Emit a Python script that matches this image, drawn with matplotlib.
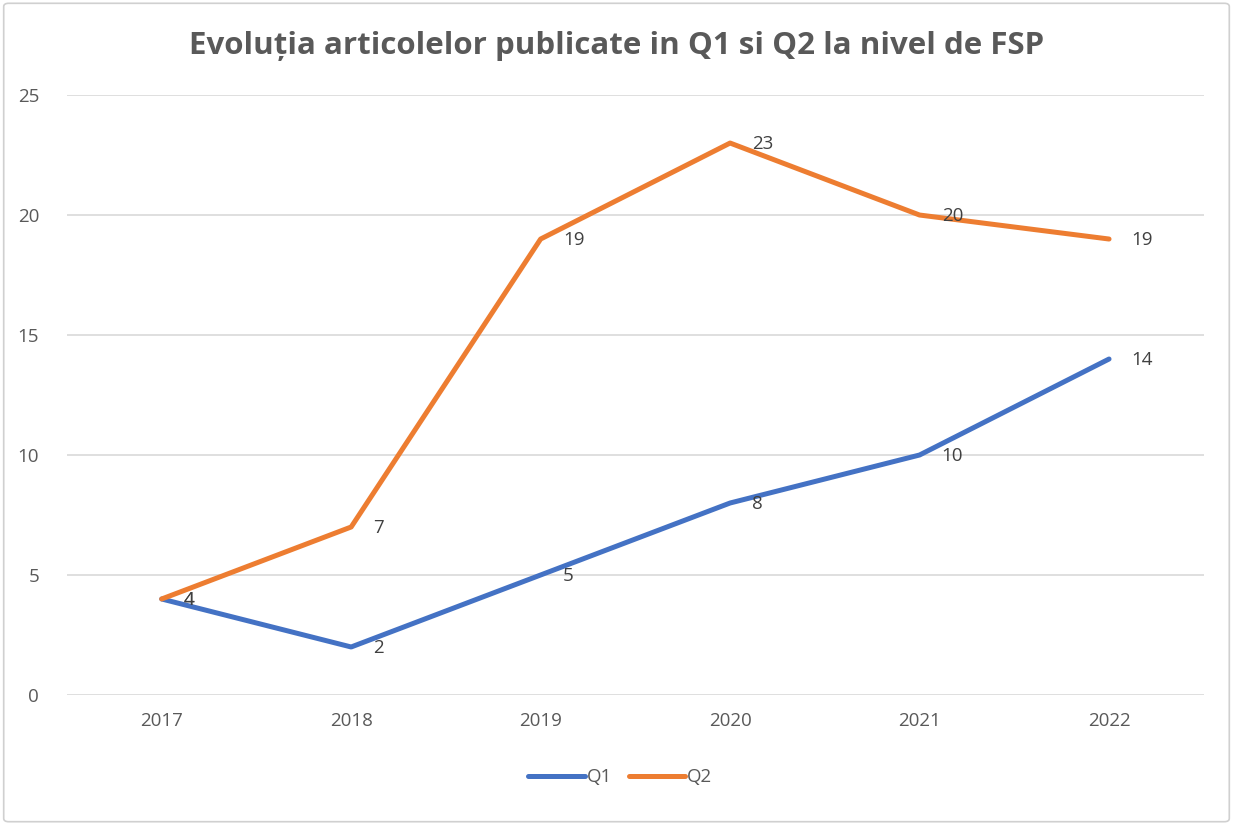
import matplotlib

matplotlib.use("Agg")

import matplotlib.pyplot as plt
from matplotlib.patches import FancyBboxPatch

years = ["2017", "2018", "2019", "2020", "2021", "2022"]
q1 = [4, 2, 5, 8, 10, 14]
q2 = [4, 7, 19, 23, 20, 19]

BLUE = "#4472C4"
ORANGE = "#ED7D31"
TEXT = "#595959"

plt.rcParams["font.family"] = ["Open Sans", "DejaVu Sans"]

fig = plt.figure(figsize=(12.33, 8.25), dpi=100)
ax = fig.add_axes([0.0543, 0.1576, 0.922, 0.7272])

x = list(range(len(years)))
ax.plot(x, q1, color=BLUE, lw=3.6, solid_capstyle="round", solid_joinstyle="round",
        label="Q1", zorder=3)
ax.plot(x, q2, color=ORANGE, lw=3.6, solid_capstyle="round", solid_joinstyle="round",
        label="Q2", zorder=3)

for vals in (q1, q2):
    for xi, v in zip(x, vals):
        ax.annotate(str(v), (xi, v), textcoords="offset points", xytext=(16, -1),
                    ha="left", va="center", fontsize=13.5, color="#404040", zorder=4)

ax.set_xlim(-0.5, len(years) - 0.5)
ax.set_ylim(0, 25)
ax.set_yticks([0, 5, 10, 15, 20, 25])
ax.set_xticks(x)
ax.set_xticklabels(years)
ax.tick_params(axis="both", length=0, colors=TEXT, labelsize=13.5)
ax.tick_params(axis="x", pad=12)
ax.tick_params(axis="y", pad=20)
ax.grid(True, axis="y", color="#D9D9D9", lw=1.2)
ax.set_axisbelow(True)
for s in ax.spines.values():
    s.set_visible(False)

fig.text(0.5, 0.944, "Evoluția articolelor publicate in Q1 si Q2 la nivel de FSP",
         ha="center", va="center", fontsize=22.5, fontweight="bold", color=TEXT)

leg = fig.legend(loc="center", bbox_to_anchor=(0.503, 0.058), ncol=2, frameon=False,
                 fontsize=13.5, handlelength=3.0, handletextpad=0.1, columnspacing=0.9)
for t in leg.get_texts():
    t.set_color(TEXT)

border = FancyBboxPatch((0.003, 0.004), 0.994, 0.992, boxstyle="round,pad=0,rounding_size=0.004",
                        transform=fig.transFigure, fill=False, ec="#D0D0D0", lw=1.2)
fig.patches.append(border)

fig.savefig("out.png", dpi=100)
